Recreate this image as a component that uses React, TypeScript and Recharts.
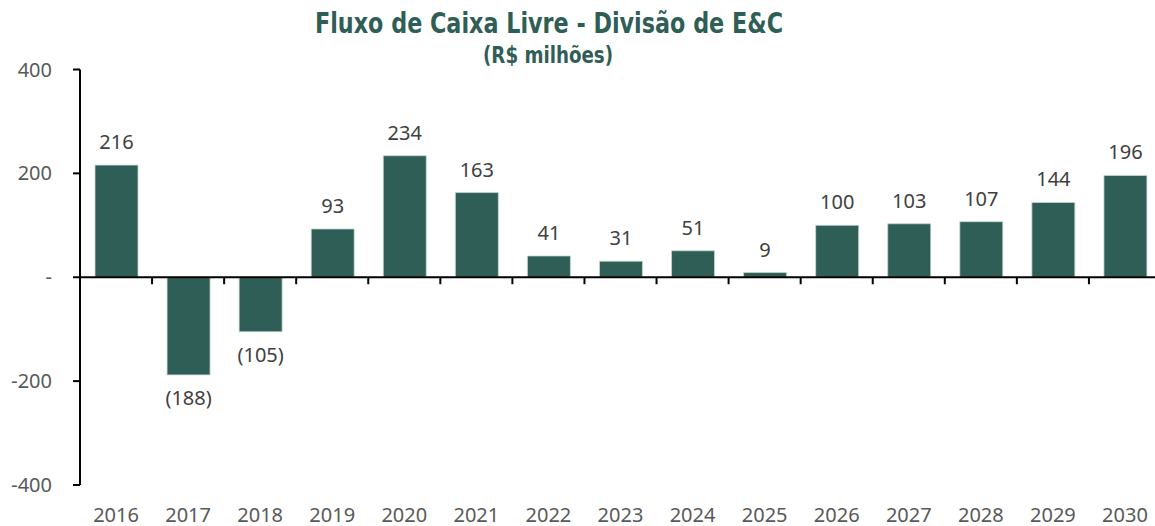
import { Bar, BarChart, LabelList, ReferenceLine, XAxis, YAxis } from "recharts";

const years = [
  "2016", "2017", "2018", "2019", "2020", "2021", "2022", "2023",
  "2024", "2025", "2026", "2027", "2028", "2029", "2030",
];
const fcf = [216, -188, -105, 93, 234, 163, 41, 31, 51, 9, 100, 103, 107, 144, 196];
const yTicks = [-400, -200, 0, 200, 400];

const data = years.map((year, i) => ({ year, fcf: fcf[i] }));

const CHART_W = 1170;
const CHART_H = 526;
const TOP = 69.5;
const BOTTOM = 41;
const LEFT = 80;
const RIGHT = 9;
const Y_MIN = -400;
const Y_MAX = 400;
const PLOT_H = CHART_H - TOP - BOTTOM;
const BAND = (CHART_W - LEFT - RIGHT) / years.length;
const ZERO_Y = TOP + (PLOT_H * Y_MAX) / (Y_MAX - Y_MIN);

const FONT = "'Noto Sans', sans-serif";
const TITLE_FONT = "'DejaVu Sans Condensed', 'DejaVu Sans', sans-serif";

const fmtLabel = (v: number) => (v < 0 ? `(${Math.abs(v)})` : `${v}`);

function YearTick(props: any) {
  const { x, payload } = props;
  return (
    <g>
      <line
        x1={x + BAND / 2}
        x2={x + BAND / 2}
        y1={ZERO_Y}
        y2={ZERO_Y + 7}
        stroke="#000"
        strokeWidth={2}
      />
      <text
        x={x}
        y={522}
        textAnchor="middle"
        fontSize={20}
        fontFamily={FONT}
        fill="#595959"
      >
        {payload.value}
      </text>
    </g>
  );
}

export default function App() {
  return (
    <div
      style={{
        position: "fixed",
        left: 0,
        top: 0,
        width: 1155,
        height: 526,
        overflow: "hidden",
        background: "#fff",
      }}
    >
      <svg
        width={1155}
        height={80}
        style={{ position: "absolute", left: 0, top: 0 }}
      >
        <text
          x={549}
          y={33}
          textAnchor="middle"
          fontFamily={TITLE_FONT}
          fontWeight="bold"
          fontSize={28.5}
          textLength={468}
          lengthAdjust="spacingAndGlyphs"
          fill="#2F5E57"
        >
          Fluxo de Caixa Livre - Divisão de E&amp;C
        </text>
        <text
          x={548}
          y={63}
          textAnchor="middle"
          fontFamily={TITLE_FONT}
          fontWeight="bold"
          fontSize={22.5}
          textLength={130}
          lengthAdjust="spacingAndGlyphs"
          fill="#2F5E57"
        >
          (R$ milhões)
        </text>
      </svg>
      <BarChart
        width={CHART_W}
        height={CHART_H}
        data={data}
        margin={{ top: TOP, right: RIGHT, left: 0, bottom: 0 }}
        barSize={43}
      >
        <XAxis
          dataKey="year"
          height={BOTTOM}
          axisLine={false}
          tickLine={false}
          interval={0}
          tick={<YearTick />}
        />
        <YAxis
          width={LEFT}
          domain={[Y_MIN, Y_MAX]}
          ticks={yTicks}
          interval={0}
          tickFormatter={(v: number) => (v === 0 ? "-" : `${v}`)}
          axisLine={{ stroke: "#000", strokeWidth: 2 }}
          tickLine={{ stroke: "#000", strokeWidth: 2 }}
          tickSize={7}
          tickMargin={21}
          tick={{ fontSize: 20, fontFamily: FONT, fill: "#595959" }}
        />
        <Bar
          dataKey="fcf"
          fill="#2F5E57"
          stroke="#c9d7d3"
          strokeWidth={0.8}
          isAnimationActive={false}
        >
          <LabelList
            dataKey="fcf"
            position="top"
            offset={16}
            formatter={(v: any) => fmtLabel(Number(v))}
            style={{ fontSize: 20, fontFamily: FONT, fill: "#404040" }}
          />
        </Bar>
        <ReferenceLine y={0} stroke="#000" strokeWidth={2} />
      </BarChart>
    </div>
  );
}
